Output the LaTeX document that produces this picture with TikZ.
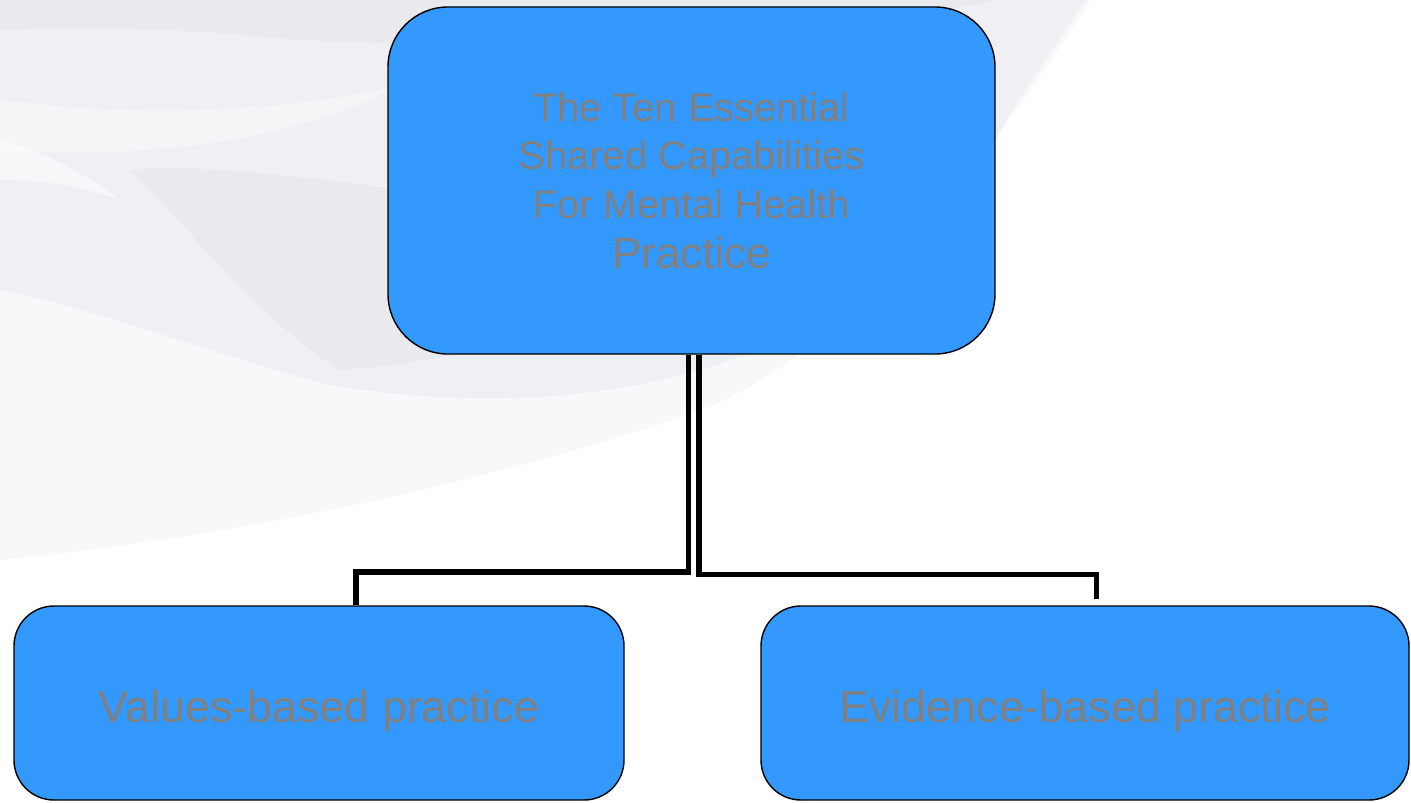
\documentclass[tikz,border=0pt]{standalone}
\usepackage{fontspec}
\setmainfont{Liberation Sans}
\definecolor{boxblue}{HTML}{3399FF}
\definecolor{txtgray}{HTML}{808080}
\definecolor{bgA}{HTML}{F8F8FA}
\definecolor{bgB}{HTML}{F0F0F4}
\definecolor{bgC}{HTML}{E9E9EE}
\definecolor{bgL}{HTML}{F5F5F8}
\begin{document}
\begin{tikzpicture}[x=1bp,y=-1bp,
  cbox/.style={draw=black,line width=1.4bp,fill=boxblue,text=txtgray,align=center,inner sep=0pt},
  lowbox/.style={cbox,rounded corners=40bp,minimum height=194bp,font=\fontsize{45}{54}\selectfont,
    text height=47.5bp,text depth=9.5bp},
  conn/.style={draw=black,line width=5.5bp,line join=miter,line cap=butt}]
\useasboundingbox (0,0) rectangle (1411,802);
\fill[white] (0,0) rectangle (1411,802);
% background swooshes
\fill[bgA] (0,0) -- (1090,0) .. controls (1040,80) and (1000,130) .. (960,190)
  .. controls (880,300) and (780,380) .. (700,410)
  .. controls (560,460) and (300,530) .. (0,560) -- cycle;
\fill[bgB] (0,0) -- (1085,0) .. controls (1040,70) and (1010,110) .. (990,150)
  .. controls (900,290) and (800,340) .. (700,370)
  .. controls (560,410) and (420,400) .. (330,385)
  .. controls (200,350) and (100,310) .. (0,290) -- cycle;
\fill[bgC] (0,0) -- (1000,0) .. controls (800,40) and (500,50) .. (300,40)
  .. controls (200,30) and (100,25) .. (0,30) -- cycle;
\fill[bgC] (130,170) .. controls (250,160) and (450,200) .. (760,240)
  .. controls (640,320) and (470,360) .. (340,370)
  .. controls (260,320) and (200,240) .. (130,170) -- cycle;
\fill[bgL] (0,100) .. controls (150,120) and (300,110) .. (400,85)
  .. controls (300,140) and (150,160) .. (0,150) -- cycle;
\fill[white,opacity=0.5] (0,140) .. controls (40,150) and (80,170) .. (120,200)
  .. controls (80,185) and (40,180) .. (0,180) -- cycle;
% boxes
\node[cbox,rounded corners=60bp,minimum width=607bp,minimum height=347bp,
  font=\fontsize{40}{49}\selectfont] (top) at (691.5,180.5)
  {The Ten Essential\\ Shared Capabilities\\ For Mental Health\\[1bp] {\fontsize{44}{49}\selectfont Practice}};
\node[lowbox,minimum width=610bp] (vbp) at (319,703) {Values-based practice};
\node[lowbox,minimum width=648bp] (ebp) at (1085,703) {Evidence-based practice};
% connectors
\coordinate (k1) at (356,572);
\coordinate (j1) at (688.5,572);
\coordinate (j2) at (699,574.5);
\coordinate (k2) at (1096.5,574.5);
\coordinate (e2) at (1096.5,599);
\draw[conn] (top.south -| j1) -- (j1) -- (k1) -- (vbp.north -| k1);
\draw[conn] (top.south -| j2) -- (j2) -- (k2) -- (e2);
\end{tikzpicture}
\end{document}
